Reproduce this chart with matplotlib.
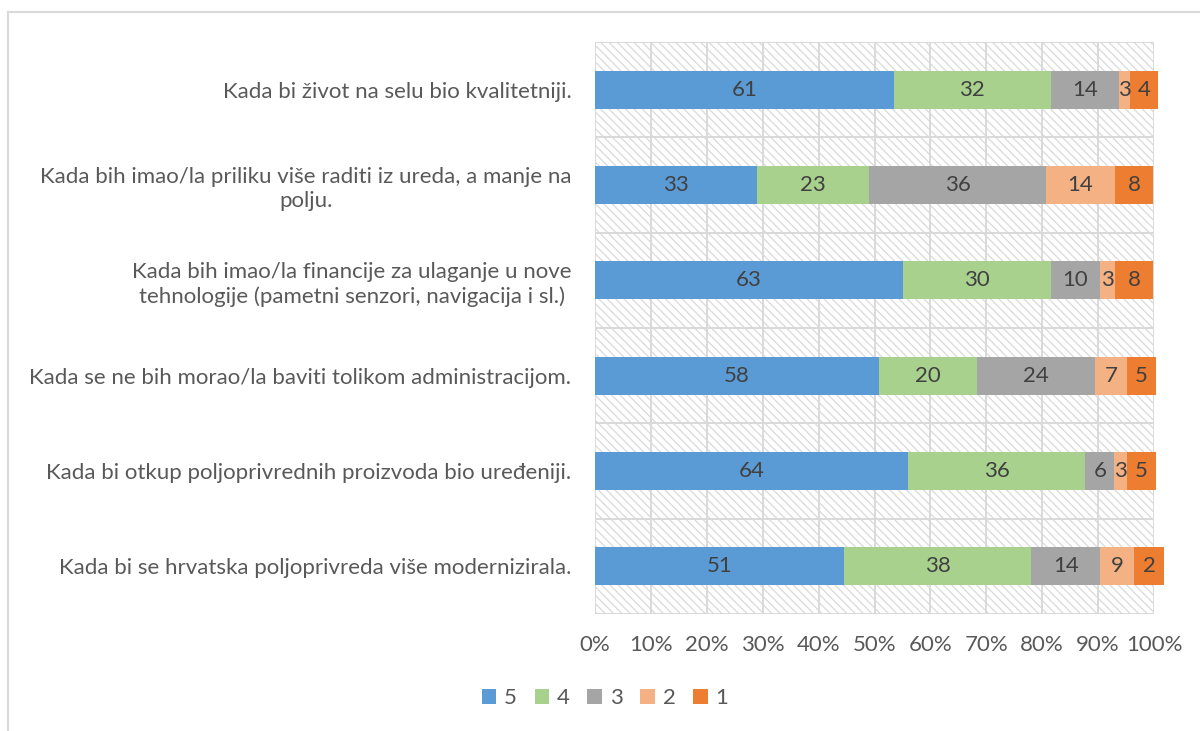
import matplotlib
matplotlib.use('Agg')
from matplotlib import pyplot as plt
from matplotlib.patches import Rectangle
from matplotlib.lines import Line2D
import numpy as np

plt.rcParams['font.family'] = ['Lato', 'DejaVu Sans']
plt.rcParams['hatch.linewidth'] = 0.9

#Category labels, top to bottom
categories = [
    'Kada bi život na selu bio kvalitetniji.',
    'Kada bih imao/la priliku više raditi iz ureda, a manje na\npolju.',
    'Kada bih imao/la financije za ulaganje u nove\ntehnologije (pametni senzori, navigacija i sl.)',
    'Kada se ne bih morao/la baviti tolikom administracijom.',
    'Kada bi otkup poljoprivrednih proizvoda bio uređeniji.',
    'Kada bi se hrvatska poljoprivreda više modernizirala.',
]

series = ['5', '4', '3', '2', '1']

#Segment widths in percent
w5 = [53.4, 28.9, 55.1, 50.8, 56.0, 44.6]
w4 = [28.1, 20.1, 26.4, 17.6, 31.7, 33.4]
w3 = [12.2, 31.7, 8.8, 21.1, 5.2, 12.4]
w2 = [2.0, 12.3, 2.7, 5.7, 2.2, 6.1]
w1 = [5.1, 6.9, 6.9, 5.2, 5.2, 5.3]

#Data labels shown on the segments
l5 = [61, 33, 63, 58, 64, 51]
l4 = [32, 23, 30, 20, 36, 38]
l3 = [14, 36, 10, 24, 6, 14]
l2 = [3, 14, 3, 7, 3, 9]
l1 = [4, 8, 8, 5, 5, 2]

widths = [w5, w4, w3, w2, w1]
labels = [l5, l4, l3, l2, l1]
colors = ['#5B9BD5', '#A9D18E', '#A5A5A5', '#F4B183', '#ED7D31']

grid_c = '#d9d9d9'
text_c = '#595959'
fs = 16

fig = plt.figure(figsize=[12, 7.31], dpi=100)
ax = fig.add_axes([595/1200, 1 - 614/731, (1154 - 595)/1200, (614 - 42)/731])
ax.set_facecolor('white')

#Hatched plot area
ax.add_patch(Rectangle((0, 0), 1, 1, transform=ax.transAxes, facecolor='white',
                       edgecolor='#dadada', hatch='\\\\\\\\', lw=0, zorder=0))

y = np.arange(len(categories))
left = np.zeros(len(categories))
for i in range(len(series)):
    bars = ax.barh(y, widths[i], left=left, height=0.4, color=colors[i],
                   label=series[i], zorder=3, clip_on=False)
    for j, b in enumerate(bars):
        ax.text(left[j] + widths[i][j] / 2, y[j], str(labels[i][j]), ha='center',
                va='center', color='#404040', fontsize=fs, zorder=4)
    left = left + np.array(widths[i])

ax.set_xlim(0, 100)
ax.set_ylim(len(categories) - 0.5, -0.5)

#Gridlines
for gx in range(0, 101, 10):
    ax.axvline(gx, color=grid_c, lw=1.4, zorder=1)
for gy in np.arange(-0.5, len(categories), 1):
    ax.axhline(gy, color=grid_c, lw=1.4, zorder=1)

for s in ax.spines.values():
    s.set_visible(False)

ax.set_xticks(range(0, 101, 10))
ax.set_xticklabels([str(v) + '%' for v in range(0, 101, 10)], color=text_c, fontsize=fs)
ax.set_yticks(y)
ax.set_yticklabels(categories, color=text_c, fontsize=fs)
for t in ax.get_yticklabels():
    t.set_multialignment('center')
    t.set_linespacing(1.25)
ax.tick_params(axis='both', length=0)
ax.tick_params(axis='x', pad=15)
ax.tick_params(axis='y', pad=17)

#Legend
fig.legend(loc='center', bbox_to_anchor=(605/1200, 1 - 698/731), ncol=5, frameon=False,
           handlelength=0.65, handleheight=0.65, columnspacing=0.8, handletextpad=0.35,
           fontsize=fs, labelcolor=text_c)

#Chart border (only top and left visible)
fig.add_artist(Line2D([8/1200, 1], [1 - 12/731, 1 - 12/731], color=grid_c, lw=1.5))
fig.add_artist(Line2D([8/1200, 8/1200], [0, 1 - 12/731], color=grid_c, lw=1.5))

fig.savefig('out.png', dpi=100)
